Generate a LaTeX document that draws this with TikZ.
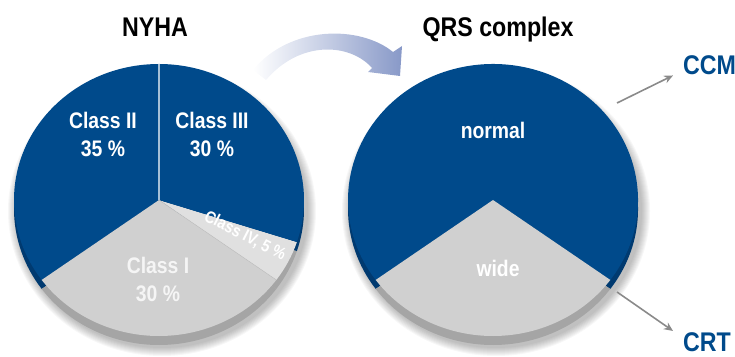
\documentclass[tikz,border=0pt]{standalone}
\usepackage{fontspec}
\setmainfont{Liberation Sans}
\newfontfamily\narrowsans[FakeStretch=0.86]{Liberation Sans}
\usepackage{tikz}
\usetikzlibrary{
  arrows.meta,
  calc
}
\definecolor{nyhablue}{RGB}{0,74,139}
\definecolor{sideblue}{RGB}{0,58,112}
\definecolor{slicegray}{RGB}{208,208,208}
\definecolor{palegray}{RGB}{224,224,224}
\definecolor{sidegray}{RGB}{165,165,165}
\definecolor{arrowblue}{RGB}{136,153,200}
\definecolor{pointergray}{RGB}{138,138,138}
\tikzset{
  title/.style={ font=\narrowsans\fontsize{27}{30}\selectfont\bfseries, inner sep=0pt },
  outcome/.style={ font=\narrowsans\fontsize{27}{30}\selectfont\bfseries, text=nyhablue, inner sep=0pt },
  slicelabel/.style={
    font=\narrowsans\fontsize{22.5}{28}\selectfont\bfseries,
    text=white,
    align=center,
    inner sep=0pt
  },
  pointer/.style={
    -{Stealth[length=9pt,width=8pt]},
    line width=1.6pt,
    draw=pointergray
  }
}

\begin{document}
\begin{tikzpicture}[x=1pt,y=1pt]
\useasboundingbox (0,0) rectangle (735,356);

\coordinate (L) at (159,156);
\coordinate (R) at (493,156);

% soft shadow under both pies
\foreach \c in {L,R}
  \foreach \k in {1,...,9}
    \fill[black,opacity=0.03] ($(\c)+(3,-11)$) ellipse[x radius=145+\k, y radius=136+\k];

% NYHA pie: sides, then tops
\foreach \a/\b/\top/\side in {90/216/nyhablue/sideblue, 216/324/slicegray/sidegray,
                              324/342/palegray/sidegray, 342/450/nyhablue/sideblue}
  \fill[\side] ($(L)+(0,-9)$) -- ++(\a:145 and 136)
    arc[start angle=\a, end angle=\b, x radius=145, y radius=136] -- cycle;
\foreach \a/\b/\top/\side in {90/216/nyhablue/sideblue, 216/324/slicegray/sidegray,
                              324/342/palegray/sidegray, 342/450/nyhablue/sideblue}
  \fill[\top] (L) -- ++(\a:145 and 136)
    arc[start angle=\a, end angle=\b, x radius=145, y radius=136] -- cycle;
\draw[white!65!nyhablue, line width=1.5pt] (L) -- ++(90:136);
\draw[black!25, line width=0.5pt] (L) -- ++(324:145 and 136);

% QRS pie
\foreach \a/\b/\top/\side in {-36/216/nyhablue/sideblue, 216/324/slicegray/sidegray}
  \fill[\side] ($(R)+(0,-9)$) -- ++(\a:145 and 136)
    arc[start angle=\a, end angle=\b, x radius=145, y radius=136] -- cycle;
\foreach \a/\b/\top/\side in {-36/216/nyhablue/sideblue, 216/324/slicegray/sidegray}
  \fill[\top] (R) -- ++(\a:145 and 136)
    arc[start angle=\a, end angle=\b, x radius=145, y radius=136] -- cycle;

% titles and labels
\node[title, anchor=base] (nyha) at (155,319) {NYHA};
\node[title, anchor=base] (qrs) at (498,319) {QRS complex};

\node[slicelabel] (class2) at (103,222) {Class II\\35 \%};
\node[slicelabel] (class3) at (212,222) {Class III\\30 \%};
\node[slicelabel, text=white!96!black] (class1) at (158,77) {Class I\\30 \%};
\node[slicelabel, font=\narrowsans\fontsize{17}{20}\selectfont\bfseries, rotate=-27] (class4) at (245,120) {Class IV, 5 \%};

\node[slicelabel] (normal) at (493,226) {normal};
\node[slicelabel] (wide) at (498,88) {wide};

\node[outcome, anchor=base west] (ccm) at (683,281) {CCM};
\node[outcome, anchor=base west] (crt) at (683,5) {CRT};

% curved arrow between the pies
\shade[left color=white, right color=arrowblue]
  (253,286) .. controls (290,331) and (360,331) .. (393,304)
  -- (402,310) -- (400,280) -- (368,284) -- (372,288)
  .. controls (350,313) and (300,316) .. (266,276) -- cycle;

% outcomes
\coordinate (ccmfoot) at (617,253);
\coordinate (crtfoot) at (617,64);
\draw[pointer] (ccmfoot) -- ([xshift=-10pt]ccm.south west);
\draw[pointer] (crtfoot) -- ([xshift=-10pt,yshift=1pt]crt.north west);
\end{tikzpicture}
\end{document}
